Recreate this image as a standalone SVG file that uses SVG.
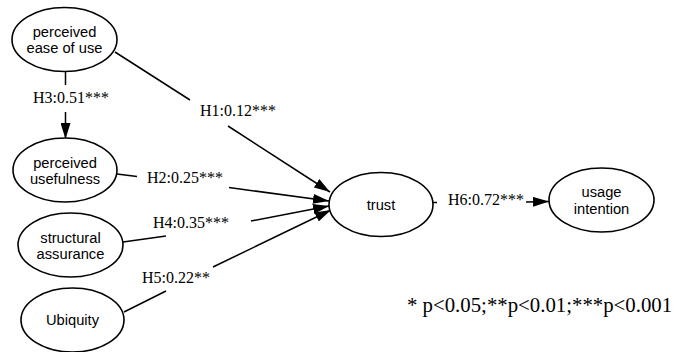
<svg xmlns="http://www.w3.org/2000/svg" width="677" height="352" viewBox="0 0 677 352">
<style>
.node ellipse{fill:#fff;stroke:#000;stroke-width:1.6}
.node text{font-family:"Liberation Sans",Arial,sans-serif;font-size:14.7px;text-anchor:middle;fill:#000}
.edge path{fill:none;stroke:#000;stroke-width:1.5}
.lbl{font-family:"Liberation Serif","Times New Roman",serif;font-size:16px;fill:#000}
</style>
<defs>
<marker id="arr" viewBox="0 0 16 10" refX="16" refY="5" markerWidth="16" markerHeight="10" markerUnits="userSpaceOnUse" orient="auto">
<path d="M0,0 L16,5 L0,10 Z" fill="#000"/>
</marker>
</defs>
<rect width="677" height="352" fill="#fff"/>
<g id="connectors" class="edge">
<path d="M115,52 L190,100"/>
<path d="M228,126 L330,192" marker-end="url(#arr)"/>
<path d="M65.5,72 L65.5,85"/>
<path d="M65.5,112 L65.5,139" marker-end="url(#arr)"/>
<path d="M117,174 L137,176.5"/>
<path d="M229,187.5 L329,201" marker-end="url(#arr)"/>
<path d="M123,242 L166,236"/>
<path d="M251,221 L329,206" marker-end="url(#arr)"/>
<path d="M124,312 L166,291"/>
<path d="M213,267 L331,210" marker-end="url(#arr)"/>
<path d="M433,202.5 L437,202.5"/>
<path d="M526,202 L549,201.5" marker-end="url(#arr)"/>
</g>
<g id="labels">
<text class="lbl" x="33" y="103">H3:0.51***</text>
<text class="lbl" x="200" y="116">H1:0.12***</text>
<text class="lbl" x="147" y="183">H2:0.25***</text>
<text class="lbl" x="153" y="228">H4:0.35***</text>
<text class="lbl" x="142" y="283">H5:0.22**</text>
<text class="lbl" x="448" y="205">H6:0.72***</text>
<text class="lbl" x="407" y="312" style="font-size:20.8px">* p&lt;0.05;**p&lt;0.01;***p&lt;0.001</text>
</g>
<g id="peou" class="node"><ellipse cx="64.5" cy="39.5" rx="52.5" ry="32"/><text x="64.5" y="37">perceived</text><text x="64.5" y="53">ease of use</text></g>
<g id="pu" class="node"><ellipse cx="65" cy="170" rx="52" ry="32"/><text x="65" y="168">perceived</text><text x="65" y="184">usefulness</text></g>
<g id="sa" class="node"><ellipse cx="70.5" cy="245" rx="52.5" ry="32"/><text x="70.5" y="243">structural</text><text x="70.5" y="259">assurance</text></g>
<g id="ubiq" class="node"><ellipse cx="72.5" cy="320" rx="51.5" ry="32"/><text x="72.5" y="325">Ubiquity</text></g>
<g id="trust" class="node"><ellipse cx="381" cy="204.5" rx="52" ry="32"/><text x="381" y="210">trust</text></g>
<g id="ui" class="node"><ellipse cx="601.5" cy="200" rx="52.5" ry="32"/><text x="601.5" y="197">usage</text><text x="601.5" y="214">intention</text></g>
</svg>
